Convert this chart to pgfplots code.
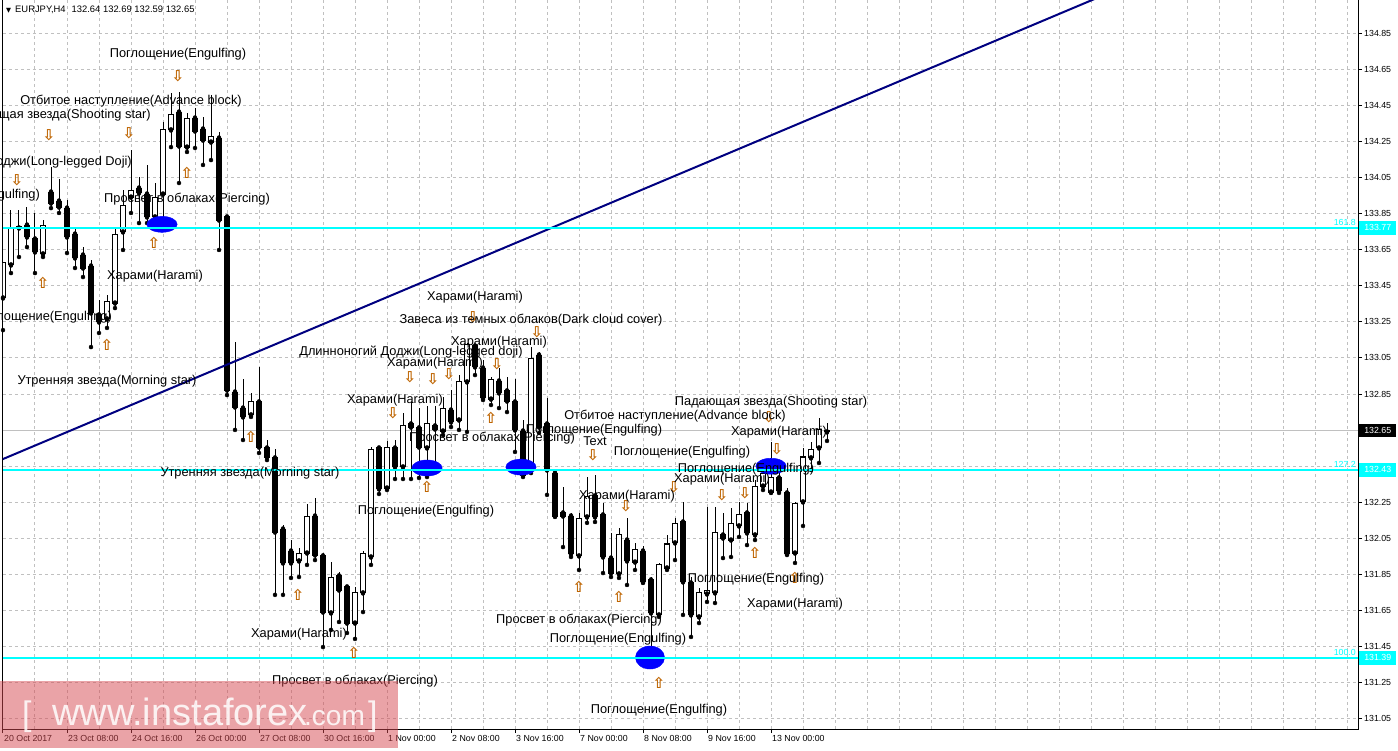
\documentclass[border=0pt]{standalone}
\usepackage{fontspec}
\setmainfont{Liberation Sans}
\newfontfamily\symfont{DejaVu Sans}
\usepackage{pgfplots}
\usepackage{pgfplotstable}
\pgfplotsset{compat=1.18}

\definecolor{gridgray}{RGB}{192,192,192}
\definecolor{fib}{RGB}{0,255,255}
\definecolor{trend}{RGB}{0,0,128}
\definecolor{oval}{RGB}{0,0,255}
\definecolor{arrowc}{RGB}{190,100,0}
\definecolor{wm}{RGB}{214,72,80}

% EURJPY H4, bar 0 = 20 Oct 2017 00:00
\pgfplotstableread{
i o h l c
0 133.382 133.620 133.204 133.576
1 133.565 133.869 133.520 133.775
2 133.770 133.869 133.609 133.780
3 133.786 133.886 133.664 133.720
4 133.709 133.853 133.520 133.637
5 133.626 133.814 133.609 133.781
6 133.969 134.108 133.880 133.908
7 133.919 134.041 133.853 133.886
8 133.880 133.925 133.631 133.720
9 133.736 133.775 133.548 133.604
10 133.620 133.664 133.498 133.548
11 133.559 133.592 133.110 133.299
12 133.288 133.371 133.188 133.249
13 133.266 133.398 133.216 133.360
14 133.354 133.775 133.326 133.736
15 133.748 133.980 133.648 133.892
16 133.941 134.202 133.853 133.975
17 133.991 134.052 133.797 133.964
18 133.958 134.119 133.797 133.831
19 133.831 134.019 133.775 133.941
20 133.958 134.357 133.814 134.318
21 134.313 134.518 134.218 134.401
22 134.412 134.523 134.019 134.224
23 134.218 134.407 134.191 134.374
24 134.379 134.434 134.213 134.307
25 134.318 134.385 134.119 134.257
26 134.246 134.506 134.146 134.274
27 134.268 134.302 133.648 133.814
28 133.831 133.842 132.844 132.872
29 132.861 133.138 132.651 132.778
30 132.772 132.933 132.595 132.723
31 132.734 132.856 132.723 132.811
32 132.806 132.999 132.523 132.556
33 132.551 132.595 132.484 132.501
34 132.496 132.545 131.737 132.085
35 132.102 132.124 131.737 131.914
36 131.980 132.041 131.831 131.914
37 131.925 131.998 131.836 131.964
38 131.969 132.241 131.903 132.174
39 132.174 132.274 131.930 131.958
40 131.953 131.969 131.448 131.642
41 131.637 131.919 131.543 131.831
42 131.842 131.864 131.587 131.764
43 131.781 131.792 131.526 131.581
44 131.581 131.781 131.493 131.753
45 131.748 131.980 131.642 131.964
46 131.947 132.556 131.903 132.545
47 132.551 132.562 132.296 132.324
48 132.329 132.590 132.318 132.556
49 132.551 132.595 132.379 132.446
50 132.446 132.745 132.379 132.673
51 132.684 132.806 132.379 132.667
52 132.662 132.772 132.385 132.556
53 132.551 132.783 132.390 132.684
54 132.673 132.783 132.429 132.656
55 132.645 132.833 132.623 132.772
56 132.761 132.872 132.667 132.695
57 132.706 132.955 132.651 132.917
58 132.917 133.133 132.640 133.122
59 133.116 133.122 132.955 133.000
60 132.994 133.039 132.817 132.828
61 132.822 132.944 132.789 132.933
62 132.922 132.994 132.772 132.856
63 132.867 132.944 132.750 132.811
64 132.806 132.933 132.529 132.651
65 132.645 132.706 132.390 132.401
66 132.446 133.110 132.412 133.049
67 133.066 133.083 132.634 132.667
68 132.684 132.828 132.291 132.429
69 132.412 132.429 132.169 132.174
70 132.191 132.335 132.002 132.174
71 132.174 132.191 131.947 131.964
72 131.953 132.191 131.875 132.163
73 132.169 132.390 132.136 132.280
74 132.285 132.401 132.141 132.169
75 132.180 132.246 131.858 131.947
76 131.941 132.080 131.836 131.858
77 131.853 132.108 131.831 132.069
78 132.041 132.163 131.792 131.925
79 131.919 132.025 131.875 131.991
80 131.980 132.007 131.803 131.809
81 131.820 131.836 131.360 131.637
82 131.626 131.914 131.615 131.903
83 131.886 132.069 131.875 132.019
84 132.025 132.163 131.930 132.130
85 132.141 132.252 131.626 131.809
86 131.803 131.836 131.504 131.626
87 131.615 131.775 131.581 131.748
88 131.742 132.224 131.698 131.759
89 131.748 132.224 131.692 132.080
90 132.069 132.191 131.941 132.052
91 132.041 132.219 131.947 132.130
92 132.119 132.252 132.058 132.180
93 132.191 132.246 132.013 132.080
94 132.069 132.374 132.041 132.335
95 132.340 132.484 132.318 132.412
96 132.307 132.584 132.302 132.390
97 132.385 132.429 132.302 132.313
98 132.302 132.329 131.958 131.964
99 131.969 132.252 131.914 132.241
100 132.252 132.551 132.119 132.501
101 132.496 132.584 132.429 132.545
102 132.551 132.717 132.468 132.651
103 132.640 132.690 132.590 132.650
}\candles

% pattern arrows
\pgfplotstableread{
x y
21.875 134.612
5.75 134.285
15.75 134.296
1.75 134.036
48.75 132.745
50.875 132.944
53.75 132.933
55.75 132.961
58.75 133.277
61.75 133.016
66.75 133.194
73.75 132.512
77.875 132.230
83.875 132.335
89.875 132.291
92.75 132.302
96.75 132.545
95.75 132.723
}\downarrows
\pgfplotstableread{
x y
5 133.465
13 133.122
18.875 133.687
23 134.074
31 132.612
36.875 131.737
43.875 131.415
53 132.335
61 132.717
72 131.781
77 131.725
82 131.249
94 131.969
99 131.831
}\uparrows

\newcommand{\lbl}{\fontsize{12.8}{15}\selectfont}
\newcommand{\sml}{\fontsize{8.8}{10}\selectfont}

\begin{document}
\begin{tikzpicture}[x=1pt,y=1pt]
\useasboundingbox (0,0) rectangle (1398,750);
\begin{axis}[
  at={(3pt,21pt)}, anchor=south west,
  scale only axis, width=1355pt, height=729pt,
  xmin=0, xmax=169.375, ymin=130.994, ymax=135.033,
  clip mode=individual,
  axis line style={black, line width=1pt},
  tick style={black, line width=1pt},
  tick align=outside, major tick length=4pt, minor tick length=0pt,
  xtick pos=bottom, ytick pos=right, yticklabel pos=right,
  xtick={0,8,...,96},
  xticklabels={20 Oct 2017,23 Oct 08:00,24 Oct 16:00,26 Oct 00:00,27 Oct 08:00,30 Oct 16:00,1 Nov 00:00,2 Nov 08:00,3 Nov 16:00,7 Nov 00:00,8 Nov 08:00,9 Nov 16:00,13 Nov 00:00},
  minor xtick={4,8,...,168},
  ytick={131.05,131.25,131.45,131.65,131.85,132.05,132.25,132.45,132.65,132.85,133.05,133.25,133.45,133.65,133.85,134.05,134.25,134.45,134.65,134.85},
  yticklabels={131.05,131.25,131.45,131.65,131.85,132.05,132.25,,,132.85,133.05,133.25,133.45,133.65,133.85,134.05,134.25,134.45,134.65,134.85},
  grid=both,
  major grid style={gridgray, dash pattern=on 3pt off 3pt, line width=1pt},
  minor grid style={gridgray, dash pattern=on 3pt off 3pt, line width=1pt},
  tick label style={font=\sml, inner sep=0pt},
  xticklabel style={anchor=north west, xshift=1pt, yshift=-2pt},
  yticklabel style={anchor=west, xshift=2pt},
]
% current price line
\addplot[gridgray, line width=1pt] coordinates {(0,132.65) (169.375,132.65)};
% wicks
\addplot[only marks, mark=none, error bars/.cd, y dir=plus, y explicit, error mark=none,
  error bar style={draw=black, solid, line width=1pt}]
  table[x=i, y=l, y error expr=\thisrow{h}-\thisrow{l}] {\candles};
% body outline / black bodies
\addplot[only marks, mark=none, error bars/.cd, y dir=plus, y explicit, error mark=none,
  error bar style={draw=black, solid, line width=6pt, line cap=butt}]
  table[x=i, y expr={min(\thisrow{o},\thisrow{c})-0.0028},
        y error expr={abs(\thisrow{c}-\thisrow{o})+0.0056}] {\candles};
% white bodies
\addplot[only marks, mark=none, error bars/.cd, y dir=plus, y explicit, error mark=none,
  error bar style={draw=white, solid, line width=4pt, line cap=butt}]
  table[x=i, y expr={\thisrow{o}+0.0028},
        y error expr={max(\thisrow{c}-\thisrow{o}-0.0056,0)}] {\candles};
% trend line
\addplot[trend, line width=2pt] coordinates {(-1,132.471) (140,135.105)};
% pattern ovals
\addplot[only marks, mark=*, mark size=8pt, mark options={xscale=1.9, fill=oval, draw=oval}]
  coordinates {(19.875,133.79) (53,132.44) (64.75,132.445) (96,132.45)};
\addplot[only marks, mark=*, mark size=11.5pt, mark options={xscale=1.27, fill=oval, draw=oval}]
  coordinates {(80.875,131.39)};
% fibo levels
\addplot[fib, line width=2pt] coordinates {(0,133.77) (169.375,133.77)};
\addplot[fib, line width=2pt] coordinates {(0,132.43) (169.375,132.43)};
\addplot[fib, line width=2pt] coordinates {(0,131.39) (169.375,131.39)};
% arrows
\addplot[only marks, mark=text, text mark={⇩}, text mark as node=true,
  text mark style={font=\symfont\bfseries\fontsize{15}{15}\selectfont, text=arrowc, inner sep=0pt, anchor=center}]
  table[x=x, y=y] {\downarrows};
\addplot[only marks, mark=text, text mark={⇧}, text mark as node=true,
  text mark style={font=\symfont\bfseries\fontsize{15}{15}\selectfont, text=arrowc, inner sep=0pt, anchor=center}]
  table[x=x, y=y] {\uparrows};
% level labels and price tags
\node[fib, font=\sml, anchor=south east, inner sep=0pt] at (axis cs:169.375,133.77) [xshift=-2pt, yshift=2pt] {161.8};
\node[fib, font=\sml, anchor=south east, inner sep=0pt] at (axis cs:169.375,132.43) [xshift=-2pt, yshift=2pt] {127.2};
\node[fib, font=\sml, anchor=south east, inner sep=0pt] at (axis cs:169.375,131.39) [xshift=-2pt, yshift=2pt] {100.0};
\node[fill=fib, text=white, font=\sml, anchor=west, inner sep=0pt, minimum width=37pt, minimum height=14pt] at (axis cs:169.375,133.77) [xshift=1pt] {133.77};
\node[fill=fib, text=white, font=\sml, anchor=west, inner sep=0pt, minimum width=37pt, minimum height=14pt] at (axis cs:169.375,132.43) [xshift=1pt] {132.43};
\node[fill=fib, text=white, font=\sml, anchor=west, inner sep=0pt, minimum width=37pt, minimum height=14pt] at (axis cs:169.375,131.39) [xshift=1pt] {131.39};
\node[fill=black, text=white, font=\sml, anchor=west, inner sep=0pt, minimum width=37pt, minimum height=13pt] at (axis cs:169.375,132.65) [xshift=1pt] {132.65};
\end{axis}

% header
\node[anchor=west, inner sep=0pt] at (6,740) {{\symfont\fontsize{6.5}{7}\selectfont ▼}\hspace{4pt}\fontsize{9.4}{11}\selectfont EURJPY,H4\hspace{6pt}132.64 132.69 132.59 132.65};

% pattern names
\begin{scope}[every node/.style={font=\lbl, inner sep=0pt, text=black}]
\node at (178,696) {Поглощение(Engulfing)};
\node at (131,649) {Отбитое наступление(Advance block)};
\node[anchor=east] at (151,635) {Падающая звезда(Shooting star)};
\node[anchor=east] at (132,588) {Длинноногий Доджи(Long-legged Doji)};
\node[anchor=east] at (40,555) {Поглощение(Engulfing)};
\node at (187,551) {Просвет в облаках(Piercing)};
\node at (155,474) {Харами(Harami)};
\node[anchor=east] at (112,433) {Поглощение(Engulfing)};
\node at (107,369) {Утренняя звезда(Morning star)};
\node at (250,277) {Утренняя звезда(Morning star)};
\node at (299,116) {Харами(Harami)};
\node at (355,69) {Просвет в облаках(Piercing)};
\node at (426,239) {Поглощение(Engulfing)};
\node at (395,350) {Харами(Harami)};
\node at (411,398) {Длинноногий Доджи(Long-legged doji)};
\node at (435,387) {Харами(Harami)};
\node at (475,453) {Харами(Harami)};
\node at (531,430) {Завеса из темных облаков(Dark cloud cover)};
\node at (499,408) {Харами(Harami)};
\node at (492,312) {Просвет в облаках(Piercing)};
\node at (594,320) {Поглощение(Engulfing)};
\node at (595,309) {Text};
\node at (675,334) {Отбитое наступление(Advance block)};
\node at (771,348) {Падающая звезда(Shooting star)};
\node at (779,318) {Харами(Harami)};
\node at (682,298) {Поглощение(Engulfing)};
\node at (746,281) {Поглощение(Engulfing)};
\node at (722,271) {Харами(Harami)};
\node at (627,254) {Харами(Harami)};
\node at (756,171) {Поглощение(Engulfing)};
\node at (795,146) {Харами(Harami)};
\node at (579,130) {Просвет в облаках(Piercing)};
\node at (618,111) {Поглощение(Engulfing)};
\node at (659,40) {Поглощение(Engulfing)};
\end{scope}

% watermark
\fill[wm, opacity=0.5] (0,2) rectangle (398,69);
\begin{scope}[every node/.style={text=white, inner sep=0pt, anchor=base west, opacity=0.85}]
\node[font=\fontsize{34}{36}\selectfont] at (22,25) {[};
\node[font=\fontsize{38}{40}\selectfont] at (52,25) {www.instaforex};
\node[font=\fontsize{28}{30}\selectfont] at (304,25) {.com};
\node[font=\fontsize{34}{36}\selectfont] at (368,25) {]};
\end{scope}
\end{tikzpicture}
\end{document}
